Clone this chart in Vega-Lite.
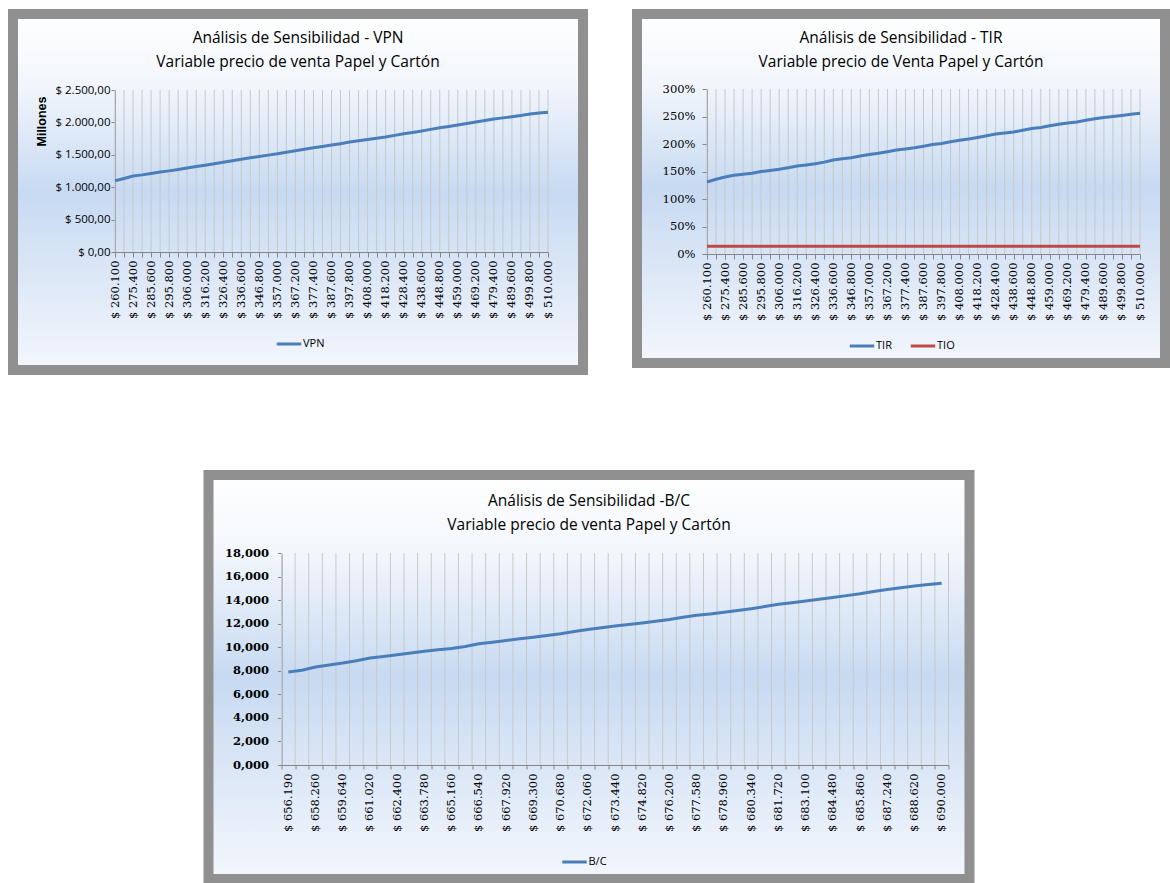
{
  "$schema": "https://vega.github.io/schema/vega-lite/v6.json",
  "background": "white",
  "padding": {"left": 8, "top": 9, "right": 0, "bottom": 0},
  "params": [
    {"name": "etiquetasPrecio", "value": ["$ 260.100", "$ 275.400", "$ 285.600", "$ 295.800", "$ 306.000", "$ 316.200", "$ 326.400", "$ 336.600", "$ 346.800", "$ 357.000", "$ 367.200", "$ 377.400", "$ 387.600", "$ 397.800", "$ 408.000", "$ 418.200", "$ 428.400", "$ 438.600", "$ 448.800", "$ 459.000", "$ 469.200", "$ 479.400", "$ 489.600", "$ 499.800", "$ 510.000"]},
    {"name": "etiquetasBC", "value": ["$ 656.190", "$ 658.260", "$ 659.640", "$ 661.020", "$ 662.400", "$ 663.780", "$ 665.160", "$ 666.540", "$ 667.920", "$ 669.300", "$ 670.680", "$ 672.060", "$ 673.440", "$ 674.820", "$ 676.200", "$ 677.580", "$ 678.960", "$ 680.340", "$ 681.720", "$ 683.100", "$ 684.480", "$ 685.860", "$ 687.240", "$ 688.620", "$ 690.000"]}
  ],
  "config": {
    "locale": {"number": {"decimal": ",", "thousands": ".", "grouping": [3], "currency": ["$ ", ""]}},
    "view": {
      "stroke": "#909090",
      "strokeWidth": 10,
      "fill": {
        "gradient": "linear", "x1": 0, "y1": 0, "x2": 0, "y2": 1,
        "stops": [
          {"offset": 0, "color": "#ffffff"},
          {"offset": 0.2, "color": "#f2f6fc"},
          {"offset": 0.5, "color": "#c7daf2"},
          {"offset": 0.8, "color": "#e2ebf8"},
          {"offset": 1, "color": "#f3f7fd"}
        ]
      }
    },
    "title": {"font": "Open Sans", "fontSize": 15.5, "fontWeight": "normal", "color": "#000000", "lineHeight": 24, "anchor": "middle", "frame": "group"},
    "axis": {"domainColor": "#868686", "tickColor": "#868686", "gridColor": "#c8c8c8", "gridWidth": 1, "labelColor": "#000000", "tickSize": 5, "domainWidth": 1, "labelOverlap": false},
    "legend": {"symbolType": "stroke", "symbolStrokeWidth": 3, "symbolSize": 600, "labelFont": "Open Sans", "labelFontSize": 11, "labelColor": "#000000", "direction": "horizontal", "title": null, "columnPadding": 12, "labelOffset": 0},
    "rule": {"color": "#c8c8c8", "strokeWidth": 1}
  },
  "resolve": {"scale": {"color": "independent"}, "legend": {"color": "independent"}},
  "datasets": {
    "vpn": [
      {"precio": "$ 260.100", "serie": "VPN", "valor": 1100},
      {"precio": "$ 270.300", "serie": "VPN", "valor": 1135},
      {"precio": "$ 275.400", "serie": "VPN", "valor": 1172},
      {"precio": "$ 280.500", "serie": "VPN", "valor": 1190},
      {"precio": "$ 285.600", "serie": "VPN", "valor": 1212},
      {"precio": "$ 290.700", "serie": "VPN", "valor": 1235},
      {"precio": "$ 295.800", "serie": "VPN", "valor": 1252},
      {"precio": "$ 300.900", "serie": "VPN", "valor": 1272},
      {"precio": "$ 306.000", "serie": "VPN", "valor": 1295},
      {"precio": "$ 311.100", "serie": "VPN", "valor": 1318},
      {"precio": "$ 316.200", "serie": "VPN", "valor": 1340},
      {"precio": "$ 321.300", "serie": "VPN", "valor": 1362},
      {"precio": "$ 326.400", "serie": "VPN", "valor": 1385},
      {"precio": "$ 331.500", "serie": "VPN", "valor": 1408},
      {"precio": "$ 336.600", "serie": "VPN", "valor": 1432},
      {"precio": "$ 341.700", "serie": "VPN", "valor": 1455},
      {"precio": "$ 346.800", "serie": "VPN", "valor": 1474},
      {"precio": "$ 351.900", "serie": "VPN", "valor": 1495},
      {"precio": "$ 357.000", "serie": "VPN", "valor": 1515},
      {"precio": "$ 362.100", "serie": "VPN", "valor": 1540},
      {"precio": "$ 367.200", "serie": "VPN", "valor": 1562},
      {"precio": "$ 372.300", "serie": "VPN", "valor": 1585},
      {"precio": "$ 377.400", "serie": "VPN", "valor": 1608},
      {"precio": "$ 382.500", "serie": "VPN", "valor": 1628},
      {"precio": "$ 387.600", "serie": "VPN", "valor": 1650},
      {"precio": "$ 392.700", "serie": "VPN", "valor": 1672},
      {"precio": "$ 397.800", "serie": "VPN", "valor": 1696},
      {"precio": "$ 402.900", "serie": "VPN", "valor": 1718},
      {"precio": "$ 408.000", "serie": "VPN", "valor": 1737},
      {"precio": "$ 413.100", "serie": "VPN", "valor": 1755},
      {"precio": "$ 418.200", "serie": "VPN", "valor": 1775},
      {"precio": "$ 423.300", "serie": "VPN", "valor": 1800},
      {"precio": "$ 428.400", "serie": "VPN", "valor": 1825},
      {"precio": "$ 433.500", "serie": "VPN", "valor": 1845},
      {"precio": "$ 438.600", "serie": "VPN", "valor": 1866},
      {"precio": "$ 443.700", "serie": "VPN", "valor": 1892},
      {"precio": "$ 448.800", "serie": "VPN", "valor": 1918},
      {"precio": "$ 453.900", "serie": "VPN", "valor": 1938},
      {"precio": "$ 459.000", "serie": "VPN", "valor": 1960},
      {"precio": "$ 464.100", "serie": "VPN", "valor": 1982},
      {"precio": "$ 469.200", "serie": "VPN", "valor": 2005},
      {"precio": "$ 474.300", "serie": "VPN", "valor": 2028},
      {"precio": "$ 479.400", "serie": "VPN", "valor": 2052},
      {"precio": "$ 484.500", "serie": "VPN", "valor": 2070},
      {"precio": "$ 489.600", "serie": "VPN", "valor": 2088},
      {"precio": "$ 494.700", "serie": "VPN", "valor": 2108},
      {"precio": "$ 499.800", "serie": "VPN", "valor": 2130},
      {"precio": "$ 504.900", "serie": "VPN", "valor": 2145},
      {"precio": "$ 510.000", "serie": "VPN", "valor": 2158}
    ],
    "tir": [
      {"precio": "$ 260.100", "serie": "TIR", "valor": 1.31}, {"precio": "$ 260.100", "serie": "TIO", "valor": 0.14},
      {"precio": "$ 270.300", "serie": "TIR", "valor": 1.36}, {"precio": "$ 270.300", "serie": "TIO", "valor": 0.14},
      {"precio": "$ 275.400", "serie": "TIR", "valor": 1.40}, {"precio": "$ 275.400", "serie": "TIO", "valor": 0.14},
      {"precio": "$ 280.500", "serie": "TIR", "valor": 1.43}, {"precio": "$ 280.500", "serie": "TIO", "valor": 0.14},
      {"precio": "$ 285.600", "serie": "TIR", "valor": 1.45}, {"precio": "$ 285.600", "serie": "TIO", "valor": 0.14},
      {"precio": "$ 290.700", "serie": "TIR", "valor": 1.47}, {"precio": "$ 290.700", "serie": "TIO", "valor": 0.14},
      {"precio": "$ 295.800", "serie": "TIR", "valor": 1.50}, {"precio": "$ 295.800", "serie": "TIO", "valor": 0.14},
      {"precio": "$ 300.900", "serie": "TIR", "valor": 1.52}, {"precio": "$ 300.900", "serie": "TIO", "valor": 0.14},
      {"precio": "$ 306.000", "serie": "TIR", "valor": 1.54}, {"precio": "$ 306.000", "serie": "TIO", "valor": 0.14},
      {"precio": "$ 311.100", "serie": "TIR", "valor": 1.57}, {"precio": "$ 311.100", "serie": "TIO", "valor": 0.14},
      {"precio": "$ 316.200", "serie": "TIR", "valor": 1.60}, {"precio": "$ 316.200", "serie": "TIO", "valor": 0.14},
      {"precio": "$ 321.300", "serie": "TIR", "valor": 1.62}, {"precio": "$ 321.300", "serie": "TIO", "valor": 0.14},
      {"precio": "$ 326.400", "serie": "TIR", "valor": 1.64}, {"precio": "$ 326.400", "serie": "TIO", "valor": 0.14},
      {"precio": "$ 331.500", "serie": "TIR", "valor": 1.67}, {"precio": "$ 331.500", "serie": "TIO", "valor": 0.14},
      {"precio": "$ 336.600", "serie": "TIR", "valor": 1.71}, {"precio": "$ 336.600", "serie": "TIO", "valor": 0.14},
      {"precio": "$ 341.700", "serie": "TIR", "valor": 1.73}, {"precio": "$ 341.700", "serie": "TIO", "valor": 0.14},
      {"precio": "$ 346.800", "serie": "TIR", "valor": 1.75}, {"precio": "$ 346.800", "serie": "TIO", "valor": 0.14},
      {"precio": "$ 351.900", "serie": "TIR", "valor": 1.78}, {"precio": "$ 351.900", "serie": "TIO", "valor": 0.14},
      {"precio": "$ 357.000", "serie": "TIR", "valor": 1.81}, {"precio": "$ 357.000", "serie": "TIO", "valor": 0.14},
      {"precio": "$ 362.100", "serie": "TIR", "valor": 1.83}, {"precio": "$ 362.100", "serie": "TIO", "valor": 0.14},
      {"precio": "$ 367.200", "serie": "TIR", "valor": 1.86}, {"precio": "$ 367.200", "serie": "TIO", "valor": 0.14},
      {"precio": "$ 372.300", "serie": "TIR", "valor": 1.89}, {"precio": "$ 372.300", "serie": "TIO", "valor": 0.14},
      {"precio": "$ 377.400", "serie": "TIR", "valor": 1.91}, {"precio": "$ 377.400", "serie": "TIO", "valor": 0.14},
      {"precio": "$ 382.500", "serie": "TIR", "valor": 1.93}, {"precio": "$ 382.500", "serie": "TIO", "valor": 0.14},
      {"precio": "$ 387.600", "serie": "TIR", "valor": 1.96}, {"precio": "$ 387.600", "serie": "TIO", "valor": 0.14},
      {"precio": "$ 392.700", "serie": "TIR", "valor": 1.99}, {"precio": "$ 392.700", "serie": "TIO", "valor": 0.14},
      {"precio": "$ 397.800", "serie": "TIR", "valor": 2.01}, {"precio": "$ 397.800", "serie": "TIO", "valor": 0.14},
      {"precio": "$ 402.900", "serie": "TIR", "valor": 2.04}, {"precio": "$ 402.900", "serie": "TIO", "valor": 0.14},
      {"precio": "$ 408.000", "serie": "TIR", "valor": 2.07}, {"precio": "$ 408.000", "serie": "TIO", "valor": 0.14},
      {"precio": "$ 413.100", "serie": "TIR", "valor": 2.09}, {"precio": "$ 413.100", "serie": "TIO", "valor": 0.14},
      {"precio": "$ 418.200", "serie": "TIR", "valor": 2.12}, {"precio": "$ 418.200", "serie": "TIO", "valor": 0.14},
      {"precio": "$ 423.300", "serie": "TIR", "valor": 2.15}, {"precio": "$ 423.300", "serie": "TIO", "valor": 0.14},
      {"precio": "$ 428.400", "serie": "TIR", "valor": 2.18}, {"precio": "$ 428.400", "serie": "TIO", "valor": 0.14},
      {"precio": "$ 433.500", "serie": "TIR", "valor": 2.20}, {"precio": "$ 433.500", "serie": "TIO", "valor": 0.14},
      {"precio": "$ 438.600", "serie": "TIR", "valor": 2.22}, {"precio": "$ 438.600", "serie": "TIO", "valor": 0.14},
      {"precio": "$ 443.700", "serie": "TIR", "valor": 2.25}, {"precio": "$ 443.700", "serie": "TIO", "valor": 0.14},
      {"precio": "$ 448.800", "serie": "TIR", "valor": 2.28}, {"precio": "$ 448.800", "serie": "TIO", "valor": 0.14},
      {"precio": "$ 453.900", "serie": "TIR", "valor": 2.30}, {"precio": "$ 453.900", "serie": "TIO", "valor": 0.14},
      {"precio": "$ 459.000", "serie": "TIR", "valor": 2.33}, {"precio": "$ 459.000", "serie": "TIO", "valor": 0.14},
      {"precio": "$ 464.100", "serie": "TIR", "valor": 2.36}, {"precio": "$ 464.100", "serie": "TIO", "valor": 0.14},
      {"precio": "$ 469.200", "serie": "TIR", "valor": 2.38}, {"precio": "$ 469.200", "serie": "TIO", "valor": 0.14},
      {"precio": "$ 474.300", "serie": "TIR", "valor": 2.40}, {"precio": "$ 474.300", "serie": "TIO", "valor": 0.14},
      {"precio": "$ 479.400", "serie": "TIR", "valor": 2.43}, {"precio": "$ 479.400", "serie": "TIO", "valor": 0.14},
      {"precio": "$ 484.500", "serie": "TIR", "valor": 2.46}, {"precio": "$ 484.500", "serie": "TIO", "valor": 0.14},
      {"precio": "$ 489.600", "serie": "TIR", "valor": 2.48}, {"precio": "$ 489.600", "serie": "TIO", "valor": 0.14},
      {"precio": "$ 494.700", "serie": "TIR", "valor": 2.50}, {"precio": "$ 494.700", "serie": "TIO", "valor": 0.14},
      {"precio": "$ 499.800", "serie": "TIR", "valor": 2.52}, {"precio": "$ 499.800", "serie": "TIO", "valor": 0.14},
      {"precio": "$ 504.900", "serie": "TIR", "valor": 2.54}, {"precio": "$ 504.900", "serie": "TIO", "valor": 0.14},
      {"precio": "$ 510.000", "serie": "TIR", "valor": 2.56}, {"precio": "$ 510.000", "serie": "TIO", "valor": 0.14}
    ],
    "bc": [
      {"precio": "$ 656.190", "serie": "B/C", "valor": 7.90},
      {"precio": "$ 657.570", "serie": "B/C", "valor": 8.04},
      {"precio": "$ 658.260", "serie": "B/C", "valor": 8.32},
      {"precio": "$ 658.950", "serie": "B/C", "valor": 8.49},
      {"precio": "$ 659.640", "serie": "B/C", "valor": 8.66},
      {"precio": "$ 660.330", "serie": "B/C", "valor": 8.86},
      {"precio": "$ 661.020", "serie": "B/C", "valor": 9.08},
      {"precio": "$ 661.710", "serie": "B/C", "valor": 9.22},
      {"precio": "$ 662.400", "serie": "B/C", "valor": 9.36},
      {"precio": "$ 663.090", "serie": "B/C", "valor": 9.51},
      {"precio": "$ 663.780", "serie": "B/C", "valor": 9.65},
      {"precio": "$ 664.470", "serie": "B/C", "valor": 9.78},
      {"precio": "$ 665.160", "serie": "B/C", "valor": 9.90},
      {"precio": "$ 665.850", "serie": "B/C", "valor": 10.07},
      {"precio": "$ 666.540", "serie": "B/C", "valor": 10.29},
      {"precio": "$ 667.230", "serie": "B/C", "valor": 10.43},
      {"precio": "$ 667.920", "serie": "B/C", "valor": 10.57},
      {"precio": "$ 668.610", "serie": "B/C", "valor": 10.71},
      {"precio": "$ 669.300", "serie": "B/C", "valor": 10.85},
      {"precio": "$ 669.990", "serie": "B/C", "valor": 10.99},
      {"precio": "$ 670.680", "serie": "B/C", "valor": 11.14},
      {"precio": "$ 671.370", "serie": "B/C", "valor": 11.33},
      {"precio": "$ 672.060", "serie": "B/C", "valor": 11.50},
      {"precio": "$ 672.750", "serie": "B/C", "valor": 11.66},
      {"precio": "$ 673.440", "serie": "B/C", "valor": 11.81},
      {"precio": "$ 674.130", "serie": "B/C", "valor": 11.93},
      {"precio": "$ 674.820", "serie": "B/C", "valor": 12.06},
      {"precio": "$ 675.510", "serie": "B/C", "valor": 12.20},
      {"precio": "$ 676.200", "serie": "B/C", "valor": 12.35},
      {"precio": "$ 676.890", "serie": "B/C", "valor": 12.54},
      {"precio": "$ 677.580", "serie": "B/C", "valor": 12.71},
      {"precio": "$ 678.270", "serie": "B/C", "valor": 12.83},
      {"precio": "$ 678.960", "serie": "B/C", "valor": 12.96},
      {"precio": "$ 679.650", "serie": "B/C", "valor": 13.11},
      {"precio": "$ 680.340", "serie": "B/C", "valor": 13.27},
      {"precio": "$ 681.030", "serie": "B/C", "valor": 13.45},
      {"precio": "$ 681.720", "serie": "B/C", "valor": 13.64},
      {"precio": "$ 682.410", "serie": "B/C", "valor": 13.78},
      {"precio": "$ 683.100", "serie": "B/C", "valor": 13.92},
      {"precio": "$ 683.790", "serie": "B/C", "valor": 14.08},
      {"precio": "$ 684.480", "serie": "B/C", "valor": 14.23},
      {"precio": "$ 685.170", "serie": "B/C", "valor": 14.38},
      {"precio": "$ 685.860", "serie": "B/C", "valor": 14.54},
      {"precio": "$ 686.550", "serie": "B/C", "valor": 14.73},
      {"precio": "$ 687.240", "serie": "B/C", "valor": 14.90},
      {"precio": "$ 687.930", "serie": "B/C", "valor": 15.05},
      {"precio": "$ 688.620", "serie": "B/C", "valor": 15.19},
      {"precio": "$ 689.310", "serie": "B/C", "valor": 15.32},
      {"precio": "$ 690.000", "serie": "B/C", "valor": 15.44}
    ]
  },
  "vconcat": [
    {
      "resolve": {"scale": {"color": "independent"}, "legend": {"color": "independent"}},
      "hconcat": [
        {
          "width": 570,
          "height": 356,
          "title": {"text": ["Análisis de Sensibilidad - VPN", "Variable precio de venta Papel y Cartón"], "offset": -56},
          "data": {"name": "vpn"},
          "encoding": {
            "x": {
              "field": "precio", "type": "ordinal", "sort": null,
              "scale": {"type": "point", "padding": 0, "range": [102, 535]},
              "axis": {"title": null, "offset": -118, "grid": false, "labelAngle": -90, "labelPadding": 3, "labelFont": "DejaVu Serif", "labelFontSize": 11.5,
                       "labelExpr": "indexof(etiquetasPrecio, datum.value) >= 0 ? datum.value : ''"}
            }
          },
          "layer": [
            {
              "mark": {"type": "rule"},
              "encoding": {"y": {"datum": 0, "type": "quantitative"}, "y2": {"datum": 2500}}
            },
            {
              "mark": {"type": "line", "strokeWidth": 3},
              "encoding": {
                "y": {
                  "field": "valor", "type": "quantitative",
                  "scale": {"domain": [0, 2500], "nice": false, "range": [238, 76]},
                  "axis": {"title": "Millones", "offset": -102, "values": [0, 500, 1000, 1500, 2000, 2500], "format": "$,.2f",
                           "tickSize": 4, "labelPadding": 1, "labelFont": "Open Sans", "labelFontSize": 11.5,
                           "titleX": -74, "titleY": 107, "titleAngle": -90, "titleAlign": "center", "titleBaseline": "middle",
                           "titleFont": "Liberation Sans", "titleFontSize": 12.5, "titleFontWeight": "bold", "titleColor": "#000000"}
                },
                "color": {
                  "field": "serie", "type": "nominal",
                  "scale": {"domain": ["VPN"], "range": ["#4a7ebb"]},
                  "legend": {"orient": "none", "legendX": 262, "legendY": 316}
                }
              }
            }
          ]
        },
        {
          "width": 528,
          "height": 349,
          "title": {"text": ["Análisis de Sensibilidad - TIR", "Variable precio de Venta Papel y Cartón"], "offset": -56},
          "data": {"name": "tir"},
          "encoding": {
            "x": {
              "field": "precio", "type": "ordinal", "sort": null,
              "scale": {"type": "point", "padding": 0, "range": [70, 503]},
              "axis": {"title": null, "offset": -109, "grid": false, "labelAngle": -90, "labelPadding": 3, "labelFont": "DejaVu Serif", "labelFontSize": 11.5,
                       "labelExpr": "indexof(etiquetasPrecio, datum.value) >= 0 ? datum.value : ''"}
            }
          },
          "layer": [
            {
              "transform": [{"filter": "datum.serie === 'TIR'"}],
              "mark": {"type": "rule"},
              "encoding": {"y": {"datum": 0, "type": "quantitative"}, "y2": {"datum": 3}}
            },
            {
              "mark": {"type": "line", "strokeWidth": 3},
              "encoding": {
                "y": {
                  "field": "valor", "type": "quantitative",
                  "scale": {"domain": [0, 3], "nice": false, "range": [240, 75]},
                  "axis": {"title": null, "offset": -70, "values": [0, 0.5, 1, 1.5, 2, 2.5, 3], "format": ".0%",
                           "labelPadding": 7, "labelFont": "DejaVu Serif", "labelFontSize": 11.5}
                },
                "color": {
                  "field": "serie", "type": "nominal", "sort": ["TIR", "TIO"],
                  "scale": {"domain": ["TIR", "TIO"], "range": ["#4a7ebb", "#be4b48"]},
                  "legend": {"orient": "none", "legendX": 211, "legendY": 318}
                }
              }
            }
          ]
        }
      ],
      "spacing": 44
    },
    {
      "width": 761,
      "height": 404,
      "title": {"text": ["Análisis de Sensibilidad -B/C", "Variable precio de venta Papel y Cartón"], "offset": -58},
      "data": {"name": "bc"},
      "encoding": {
        "x": {
          "field": "precio", "type": "ordinal", "sort": null, "bandPosition": 0.5,
          "scale": {"type": "band", "paddingInner": 0, "paddingOuter": 0, "range": [73, 740]},
          "axis": {"title": null, "offset": -114, "grid": false, "tickBand": "extent", "tickSize": 4, "labelAngle": -90, "labelPadding": 4, "labelFont": "DejaVu Serif", "labelFontSize": 11.5,
                   "labelExpr": "indexof(etiquetasBC, datum.value) >= 0 ? datum.value : ''"}
        }
      },
      "layer": [
        {
          "mark": {"type": "rule"},
          "encoding": {
            "x": {"field": "precio", "type": "ordinal", "sort": null, "bandPosition": 0},
            "y": {"datum": 0, "type": "quantitative"}, "y2": {"datum": 18}
          }
        },
        {
          "transform": [{"filter": "datum.precio === '$ 690.000'"}],
          "mark": {"type": "rule"},
          "encoding": {
            "x": {"field": "precio", "type": "ordinal", "sort": null, "bandPosition": 1},
            "y": {"datum": 0, "type": "quantitative"}, "y2": {"datum": 18}
          }
        },
        {
          "mark": {"type": "line", "strokeWidth": 3},
          "encoding": {
            "y": {
              "field": "valor", "type": "quantitative",
              "scale": {"domain": [0, 18], "nice": false, "range": [290, 78]},
              "axis": {"title": null, "offset": -73, "values": [0, 2, 4, 6, 8, 10, 12, 14, 16, 18], "format": ".3f",
                       "tickSize": 4, "labelPadding": 9, "labelFont": "DejaVu Serif", "labelFontSize": 11.5, "labelFontWeight": "bold"}
            },
            "color": {
              "field": "serie", "type": "nominal",
              "scale": {"domain": ["B/C"], "range": ["#4a7ebb"]},
              "legend": {"orient": "none", "legendX": 352, "legendY": 373}
            }
          }
        }
      ]
    }
  ],
  "spacing": 95,
  "center": true
}
